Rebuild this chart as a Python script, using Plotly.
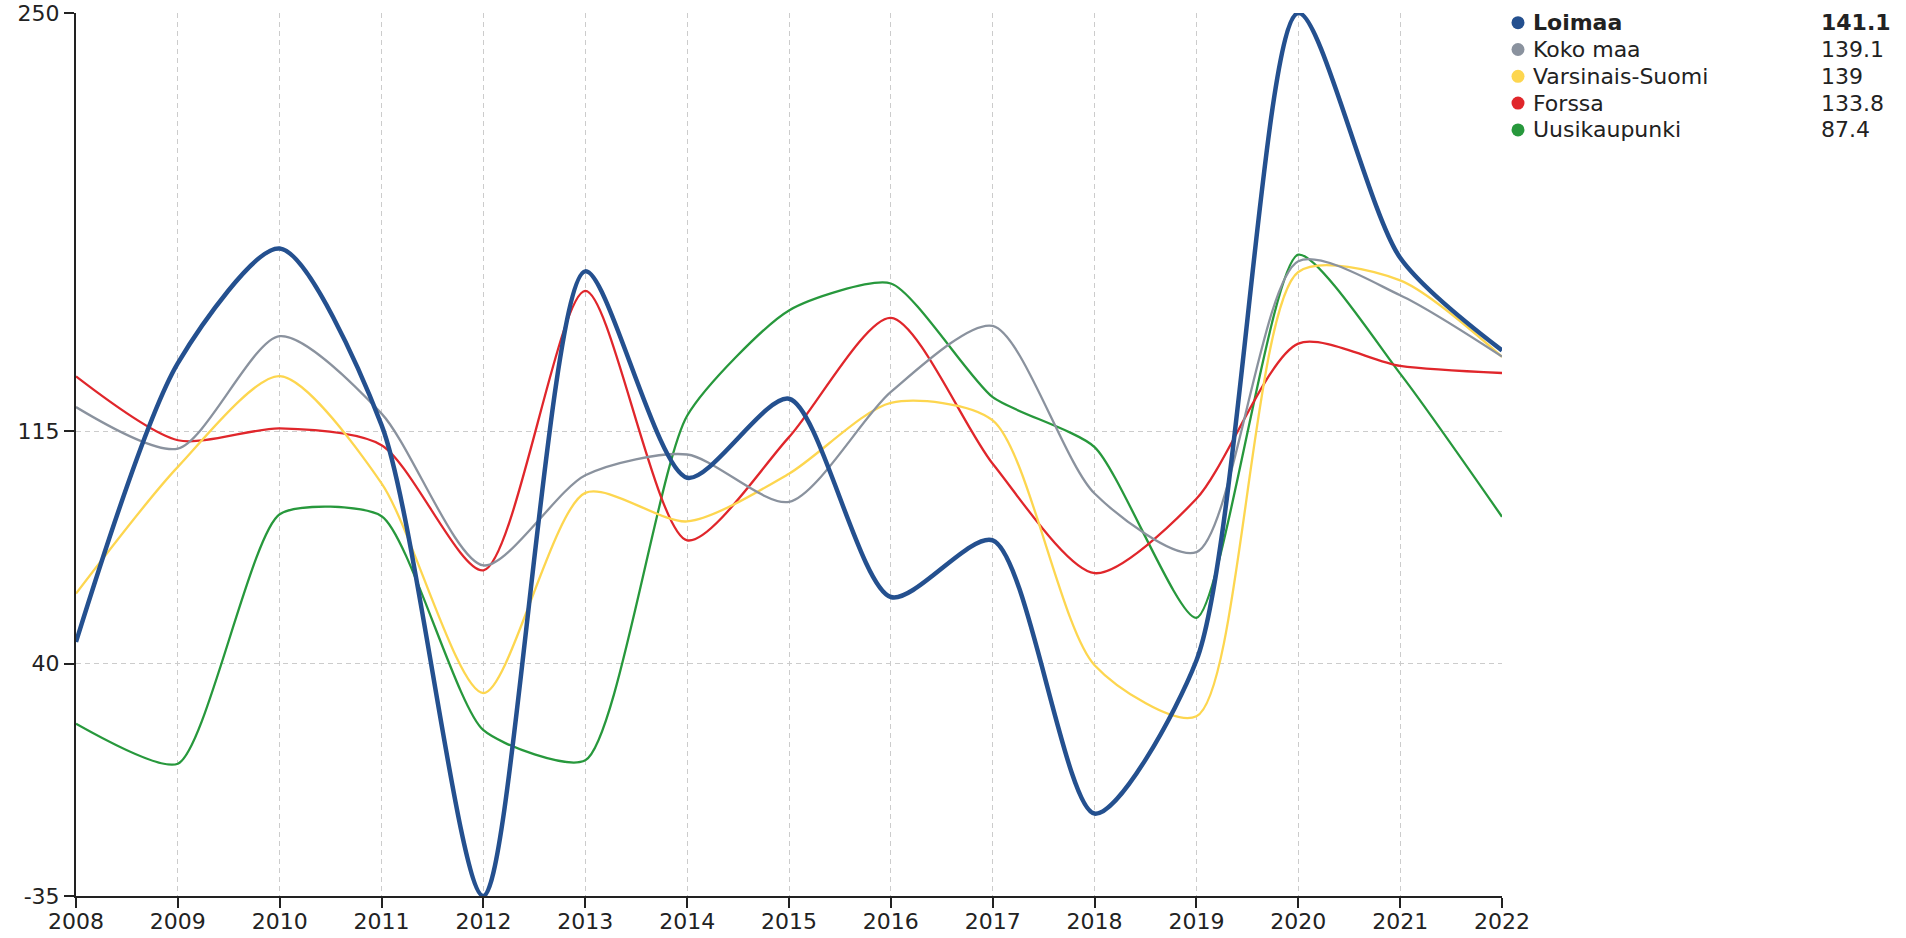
import plotly.graph_objects as go

years = list(range(2008, 2023))

loimaa = [47, 137, 174, 117, -35, 166.6, 100, 125.5, 61.5, 79.8, -8.4, 41, 250, 171, 141.1]
koko_maa = [122.8, 109.4, 145.7, 120.7, 71.7, 100.8, 107.5, 92.2, 127.7, 149, 94.9, 76, 169.9, 158.9, 139.1]
varsinais_suomi = [62.6, 103.5, 132.8, 98.2, 30.5, 95.1, 85.9, 101.3, 124.2, 118.5, 39.5, 23, 166.4, 163.7, 139]
forssa = [132.7, 112.1, 115.9, 110.5, 70.1, 160.3, 79.8, 113.1, 151.6, 104.5, 69.2, 93.2, 143.3, 136.1, 133.8]
uusikaupunki = [20.6, 7.7, 88.2, 87.6, 18.5, 8.8, 120, 154, 162.7, 126, 109.9, 54.8, 172, 133.6, 87.4]

series_names = ["Loimaa", "Koko maa", "Varsinais-Suomi", "Forssa", "Uusikaupunki"]
series_values = [loimaa, koko_maa, varsinais_suomi, forssa, uusikaupunki]
series_colors = ["#24508f", "#8a929e", "#fdd64f", "#e0262b", "#27983c"]
series_widths = [4.5, 2.3, 2.3, 2.3, 2.3]
series_smoothing = [0.75, 0.75, 0.75, 0.75, 0.6]
legend_values = ["141.1", "139.1", "139", "133.8", "87.4"]

y_ticks = [-35, 40, 115, 250]
y_tick_labels = ["-35", "40", "115", "250"]

FONT = "DejaVu Sans"
FS = 22
W, H = 1906, 938
L, R, T, B = 76, 404, 13, 42

fig = go.Figure()
order = [4, 3, 2, 1, 0]
for i in order:
    fig.add_trace(go.Scatter(
        x=years, y=series_values[i], name=series_names[i], mode="lines",
        line=dict(color=series_colors[i], width=series_widths[i], shape="spline",
                  smoothing=series_smoothing[i]),
        showlegend=False, hoverinfo="x+y+name",
    ))

plot_w = W - L - R
plot_h = H - T - B

def px_to_paper_x(px):
    return (px - L) / plot_w

def px_to_paper_y(py):
    return 1 - (py - T) / plot_h

annotations = []
shapes = []
row0, row_step = 22.7, 26.8
for k, name in enumerate(series_names):
    yc = row0 + k * row_step
    bold = k == 0
    shapes.append(dict(
        type="circle", xref="paper", yref="paper",
        xsizemode="pixel", ysizemode="pixel",
        xanchor=px_to_paper_x(1518), yanchor=px_to_paper_y(yc),
        x0=-6.5, x1=6.5, y0=-6.5, y1=6.5,
        fillcolor=series_colors[k], line=dict(width=0),
    ))
    annotations.append(dict(
        xref="paper", yref="paper", x=px_to_paper_x(1531), y=px_to_paper_y(yc),
        xanchor="left", yanchor="middle", showarrow=False,
        text=f"<b>{name}</b>" if bold else name,
        font=dict(family=FONT, size=FS, color="#222"),
    ))
    annotations.append(dict(
        xref="paper", yref="paper", x=px_to_paper_x(1819), y=px_to_paper_y(yc),
        xanchor="left", yanchor="middle", showarrow=False,
        text=f"<b>{legend_values[k]}</b>" if bold else legend_values[k],
        font=dict(family=FONT, size=FS, color="#222"),
    ))

axis_common = dict(
    showgrid=True, gridcolor="#cccccc", griddash="5px,4px", gridwidth=1,
    showline=True, linecolor="#222", linewidth=2,
    ticks="outside", ticklen=10, tickwidth=2, tickcolor="#222",
    zeroline=False, fixedrange=True, automargin=False,
    tickfont=dict(family=FONT, size=FS, color="#222"),
)

fig.update_layout(
    width=W, height=H,
    margin=dict(l=L, r=R, t=T, b=B, pad=0),
    paper_bgcolor="white", plot_bgcolor="white",
    font=dict(family=FONT, size=FS, color="#222"),
    showlegend=False,
    shapes=shapes,
    annotations=annotations,
    xaxis=dict(range=[2008, 2022], tickmode="array", tickvals=years,
               ticktext=[str(y) for y in years], ticklabelstandoff=-5, **axis_common),
    yaxis=dict(range=[-35, 250], tickmode="array", tickvals=y_ticks,
               ticktext=y_tick_labels, **axis_common),
)

fig.write_html("out.html", config={"displayModeBar": False},
               post_script="document.body.style.margin='0';document.body.style.overflow='hidden';")
